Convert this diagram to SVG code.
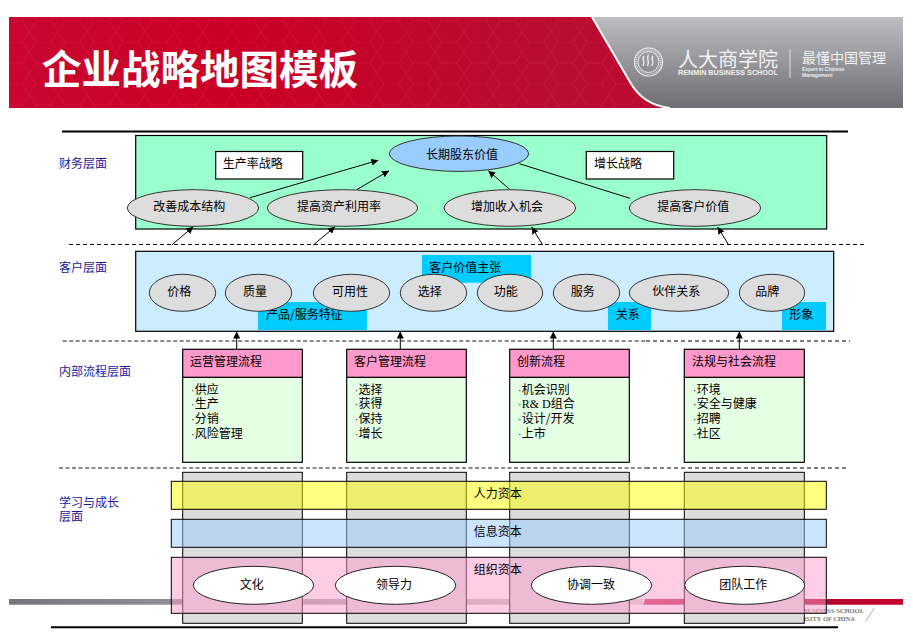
<svg xmlns="http://www.w3.org/2000/svg" width="913" height="644" viewBox="0 0 913 644">
<style>
text{font-family:"Noto Sans CJK SC","Liberation Sans",sans-serif;font-size:12px;fill:#000}
.box{stroke:#000;stroke-width:1.2}
.g{fill:#DDDDDD;stroke:#333;stroke-width:1}
.c{fill:#00CCFF}
.lab{fill:#1a1a9c}
.hd{fill:#FF99CC;stroke:#000;stroke-width:1.2}
.bd{fill:#E5FFE5;stroke:#000;stroke-width:1.2}
.col{fill:#DDDDDD;stroke:#000;stroke-width:1}
.wh{fill:#fff;stroke:#222;stroke-width:1}
.conn{stroke:#000;stroke-width:1;fill:none}
.arr{marker-end:url(#ah)}
.dk{stroke:#000;stroke-width:1;stroke-dasharray:4 3;fill:none}
.dg{stroke:#666;stroke-width:1.6;stroke-dasharray:4 2.5;fill:none}
.bul{font-family:"Liberation Sans",sans-serif;fill:#444}
</style>
<defs>
<marker id="ah" markerUnits="userSpaceOnUse" markerWidth="8" markerHeight="8" refX="7" refY="3.5" orient="auto"><path d="M0,0L7,3.5L0,7z" fill="#000"/></marker>
<linearGradient id="red" x1="0" y1="0" x2="1" y2="0"><stop offset="0" stop-color="#C80630"/><stop offset=".25" stop-color="#CC0026"/><stop offset=".6" stop-color="#B80C30"/><stop offset="1" stop-color="#C00A30"/></linearGradient>
<linearGradient id="gry" x1="0" y1="0" x2="0" y2="1"><stop offset="0" stop-color="#BDBDC2"/><stop offset="1" stop-color="#6E6E72"/></linearGradient>
<linearGradient id="strip" x1="0" y1="0" x2="1" y2="0"><stop offset="0" stop-color="#77747C"/><stop offset=".5" stop-color="#A8A8AC"/><stop offset="1" stop-color="#D8D8D8"/></linearGradient>
<linearGradient id="stripr" x1="0" y1="0" x2="1" y2="0"><stop offset="0" stop-color="#C8365C"/><stop offset=".6" stop-color="#B00A30"/><stop offset="1" stop-color="#C4002A"/></linearGradient>
<pattern id="hex" width="29" height="42" patternUnits="userSpaceOnUse"><path d="M7,0L22,0L29,10.5L22,21L7,21L0,10.5zM7,21L0,31.5L7,42M22,21L29,31.5L22,42" fill="none" stroke="#E04060" stroke-opacity=".22" stroke-width="1"/></pattern>
</defs>

<g id="banner">
<rect x="9" y="17" width="894" height="91" fill="url(#red)"/>
<rect x="9" y="17" width="640" height="91" fill="url(#hex)"/>
<path d="M592,17H903V108H668C650,106 638,96 630,82Z" fill="url(#gry)"/>
<path d="M592,17L630,82C638,96 650,106 670,108" fill="none" stroke="#fff" stroke-width="2"/>
<text x="42" y="84" style="font-size:39.5px;font-weight:700;fill:#fff">企业战略地图模板</text>
<circle cx="648.5" cy="62" r="14" fill="none" stroke="#eee" stroke-width="1.2"/>
<circle cx="648.5" cy="62" r="10.5" fill="none" stroke="#eee" stroke-width="1"/>
<circle cx="648.5" cy="62" r="12.2" fill="none" stroke="#ddd" stroke-width="1.4" stroke-dasharray="1 1"/>
<path d="M644,56c-3,3 2,5 -1,10M648.5,55c-3,4 2,6 -1,11M653,56c-3,3 2,5 -1,10" fill="none" stroke="#eee" stroke-width="1.4"/>
<text x="678" y="67" style="font-size:20px;fill:#f2f2f2">人大商学院</text>
<text x="678" y="75" style="font-size:7.2px;font-weight:700;fill:#eee;font-family:'Liberation Sans',sans-serif">RENMIN BUSINESS SCHOOL</text>
<path d="M790,49V78" stroke="#ddd" stroke-width="1"/>
<text x="802" y="63" style="font-size:14px;fill:#f2f2f2">最懂中国管理</text>
<text x="802" y="71" style="font-size:5px;font-weight:700;fill:#eee;font-family:'Liberation Sans',sans-serif">Expert in Chinese</text>
<text x="802" y="77" style="font-size:5px;font-weight:700;fill:#eee;font-family:'Liberation Sans',sans-serif">Management</text>
</g>

<g id="footer">
<rect x="9" y="599" width="634" height="5.7" fill="url(#strip)"/>
<path d="M645,599H903V604.7H643Z" fill="url(#stripr)"/>
<text x="864" y="613" text-anchor="end" style="font-family:'Liberation Serif',serif;font-size:6.5px;font-weight:700;fill:#777">BUSINESS SCHOOL</text>
<text x="855" y="620.5" text-anchor="end" style="font-family:'Liberation Serif',serif;font-size:6.5px;font-weight:700;fill:#777">UNIVERSITY OF CHINA</text>
<path d="M874,608L866,621" stroke="#999" stroke-width=".8"/>
</g>

<g id="layer-labels">
<text class="lab" x="59" y="168">财务层面</text>
<text class="lab" x="59" y="272">客户层面</text>
<text class="lab" x="59" y="376">内部流程层面</text>
<text class="lab" x="59" y="507">学习与成长</text>
<text class="lab" x="59" y="521">层面</text>
</g>

<g id="finance-panel"><rect class="box" x="135.7" y="135.5" width="691" height="93.5" fill="#99FFCC"/></g>
<g id="customer-panel"><rect class="box" x="135.7" y="251.3" width="698" height="80" fill="#CCECFF"/></g>

<g id="connectors">
<path class="conn" d="M62,131.5H848" style="stroke-width:2"/>
<path class="dk" d="M69,244.5H864"/>
<path class="dg" d="M62.7,341H646"/>
<path class="dk" d="M646,341H850"/>
<path class="dg" d="M59,468H646"/>
<path class="dk" d="M646,468H846"/>
<path class="conn arr" d="M250,197.7L378.3,160.3"/>
<path class="conn arr" d="M356.7,189.7L389,170.7"/>
<path class="conn arr" d="M509.3,189L488.3,170.7"/>
<path class="conn" d="M630,198.3L519.3,163.7"/>
<path class="conn arr" d="M171.7,245L193.3,226.7"/>
<path class="conn arr" d="M313.3,245L335,226.7"/>
<path class="conn arr" d="M542.7,245L531.7,227"/>
<path class="conn arr" d="M728.7,245L717.7,227"/>
<path class="conn arr" d="M236.7,349L236.7,331.5"/>
<path class="conn arr" d="M400.3,349L400.3,331.5"/>
<path class="conn arr" d="M553.3,349L553.3,331.5"/>
<path class="conn arr" d="M739.3,349L739.3,331.5"/>
<path class="conn" d="M51,627.3H838" style="stroke-width:2"/>
</g>

<g id="productivity-strategy"><rect class="box" x="215.7" y="151.5" width="87" height="27.5" fill="#fff"/><text x="222.7" y="167.5">生产率战略</text></g>
<g id="growth-strategy"><rect class="box" x="586.3" y="151.5" width="87.4" height="27.5" fill="#fff"/><text x="594" y="167.5">增长战略</text></g>
<g id="shareholder-value"><ellipse cx="459" cy="153.7" rx="69.7" ry="17.7" fill="#99CCFF" stroke="#333"/><text x="426" y="158.5">长期股东价值</text></g>
<g id="f1"><ellipse class="g" cx="193" cy="208" rx="65.7" ry="18.3"/><text x="153.3" y="210.5">改善成本结构</text></g>
<g id="f2"><ellipse class="g" cx="342.5" cy="208" rx="75.2" ry="18.3"/><text x="297" y="210.5">提高资产利用率</text></g>
<g id="f3"><ellipse class="g" cx="509.8" cy="208" rx="65.8" ry="18.3"/><text x="471" y="210.5">增加收入机会</text></g>
<g id="f4"><ellipse class="g" cx="695" cy="208" rx="65.7" ry="18.3"/><text x="657.3" y="210.5">提高客户价值</text></g>

<g id="tag-value"><rect class="c" x="422" y="255" width="109" height="27.7"/><text x="429.3" y="272">客户价值主张</text></g>
<g id="tag-product"><rect class="c" x="258" y="302" width="109" height="28"/><text x="266" y="319">产品/服务特征</text></g>
<g id="tag-relation"><rect class="c" x="608" y="302" width="43" height="28"/><text x="615.7" y="319">关系</text></g>
<g id="tag-image"><rect class="c" x="782" y="302" width="44" height="28"/><text x="789.3" y="319">形象</text></g>
<g id="c1"><ellipse class="g" cx="182.5" cy="292.8" rx="33.2" ry="18.5"/><text x="167.3" y="295.5">价格</text></g>
<g id="c2"><ellipse class="g" cx="258.5" cy="292.8" rx="33.2" ry="18.5"/><text x="243" y="295.5">质量</text></g>
<g id="c3"><ellipse class="g" cx="351.5" cy="292.8" rx="38.2" ry="18.5"/><text x="332" y="295.5">可用性</text></g>
<g id="c4"><ellipse class="g" cx="433.5" cy="292.8" rx="33.2" ry="18.5"/><text x="417.7" y="295.5">选择</text></g>
<g id="c5"><ellipse class="g" cx="510" cy="292.8" rx="32.7" ry="18.5"/><text x="493.7" y="295.5">功能</text></g>
<g id="c6"><ellipse class="g" cx="586.5" cy="292.8" rx="33.2" ry="18.5"/><text x="570.7" y="295.5">服务</text></g>
<g id="c7"><ellipse class="g" cx="679" cy="292.8" rx="49.7" ry="18.5"/><text x="652.3" y="295.5">伙伴关系</text></g>
<g id="c8"><ellipse class="g" cx="772" cy="292.8" rx="32.7" ry="18.5"/><text x="755.3" y="295.5">品牌</text></g>

<g id="process-1"><rect class="bd" x="182.7" y="377.3" width="119.6" height="85"/><rect class="hd" x="182.7" y="349.3" width="119.6" height="28"/><text x="190" y="365.5">运营管理流程</text>
<text x="190.7" y="393.5"><tspan class="bul">·</tspan>供应</text><text x="190.7" y="408"><tspan class="bul">·</tspan>生产</text><text x="190.7" y="422.5"><tspan class="bul">·</tspan>分销</text><text x="190.7" y="437.5"><tspan class="bul">·</tspan>风险管理</text></g>
<g id="process-2"><rect class="bd" x="346.7" y="377.3" width="119.6" height="85"/><rect class="hd" x="346.7" y="349.3" width="119.6" height="28"/><text x="354" y="365.5">客户管理流程</text>
<text x="354.4" y="393.5"><tspan class="bul">·</tspan>选择</text><text x="354.4" y="408"><tspan class="bul">·</tspan>获得</text><text x="354.4" y="422.5"><tspan class="bul">·</tspan>保持</text><text x="354.4" y="437.5"><tspan class="bul">·</tspan>增长</text></g>
<g id="process-3"><rect class="bd" x="509.7" y="377.3" width="119.6" height="85"/><rect class="hd" x="509.7" y="349.3" width="119.6" height="28"/><text x="517" y="365.5">创新流程</text>
<text x="517.7" y="393.5"><tspan class="bul">·</tspan>机会识别</text><text x="517.7" y="408"><tspan class="bul">·</tspan><tspan style="font-family:'Liberation Serif',serif">R&amp; D</tspan>组合</text><text x="517.7" y="422.5"><tspan class="bul">·</tspan>设计/开发</text><text x="517.7" y="437.5"><tspan class="bul">·</tspan>上市</text></g>
<g id="process-4"><rect class="bd" x="684.3" y="377.3" width="120" height="85"/><rect class="hd" x="684.3" y="349.3" width="120" height="28"/><text x="692" y="365.5">法规与社会流程</text>
<text x="692.7" y="393.5"><tspan class="bul">·</tspan>环境</text><text x="692.7" y="408"><tspan class="bul">·</tspan>安全与健康</text><text x="692.7" y="422.5"><tspan class="bul">·</tspan>招聘</text><text x="692.7" y="437.5"><tspan class="bul">·</tspan>社区</text></g>

<g id="learning-columns">
<rect class="col" x="182.7" y="472.3" width="119.6" height="151"/>
<rect class="col" x="346.7" y="472.3" width="119.6" height="151"/>
<rect class="col" x="509.7" y="472.3" width="119.6" height="151"/>
<rect class="col" x="684.3" y="472.3" width="120" height="151"/>
</g>
<g id="human-capital"><rect x="171.3" y="481.3" width="655" height="28" fill="#FFFF00" fill-opacity=".5" stroke="#000"/><text x="473.7" y="498">人力资本</text></g>
<g id="information-capital"><rect x="171.3" y="519.3" width="655" height="28" fill="#99CCFF" fill-opacity=".5" stroke="#000"/><text x="473.7" y="536">信息资本</text></g>
<g id="organization-capital"><rect x="171.3" y="557.3" width="655" height="56" fill="#FF99CC" fill-opacity=".5" stroke="#000"/><text x="473.7" y="573.5">组织资本</text></g>
<g id="o1"><ellipse class="wh" cx="253.5" cy="585.3" rx="60.2" ry="19"/><text x="239.7" y="588.8">文化</text></g>
<g id="o2"><ellipse class="wh" cx="395.5" cy="585.3" rx="60.2" ry="19"/><text x="376" y="588.8">领导力</text></g>
<g id="o3"><ellipse class="wh" cx="591.5" cy="585.3" rx="60.2" ry="19"/><text x="567" y="588.8">协调一致</text></g>
<g id="o4"><ellipse class="wh" cx="744.7" cy="585.3" rx="60" ry="19"/><text x="719.3" y="588.8">团队工作</text></g>
</svg>
